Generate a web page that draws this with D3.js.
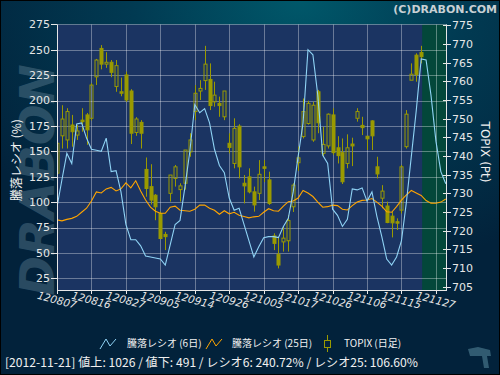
<!doctype html>
<html>
<head>
<meta charset="utf-8">
<script src="https://d3js.org/d3.v7.min.js"></script>
<style>
body { margin: 0; background: #02233c; }
svg { display: block; }
</style>
</head>
<body>
<svg width="500" height="375"></svg>
<script>
// tick labels on the date axis (every 7 trading days)
var tickLabels = ["120807","120816","120827","120905","120914","120926","121005","121017","121026","121106","121115","121127"];
var tickIndex = [0,7,14,21,28,35,42,49,56,63,70,77];
var leftTicks = [25,50,75,100,125,150,175,200,225,250,275];
var rightTicks = [705,710,715,720,725,730,735,740,745,750,755,760,765,770,775];

// 騰落レシオ (6日) / (25日), daily
var ratio6 = [95,122,148,138,177,178,163,152,151,150,163,130,131,110,78,63,63,57,47,46,
              45,44,38,58,78,82,115,150,196,188,192,178,152,136,129,104,92,94,78,62,
              46,56,65,66,66,65,76,84,110,145,178,250,245,205,146,138,93,87,76,83,
              113,112,114,101,110,86,66,44,38,46,62,100,145,190,241,240,205,160,130,118];
var ratio25 = [82.5,81.5,83,84,86,90,94,101,110,109,113,114.5,111,113,119,114,121,111,102,95,
               91,89,89,95,96,92,91.5,91,93,97,97,94,92,88,91.5,88.5,90,87,85.8,84.5,
               85.5,86,90,93.5,91.5,91,96,100.4,101,104,111.5,109,105.5,100,95,95.5,97,96.5,93,92.3,
               96.5,100,101.7,102,103.5,100,96,90.5,90,95.5,102,107,111.5,109,106.6,101.5,99,98.8,100,103];

// TOPIX daily candles
var opens  = [735.4,745.4,744.3,748.3,745.6,749.6,751,750.1,761.2,768.8,764.6,765.1,758.6,757.2,761.7,757.4,746.3,749,736.4,731.8,
              729.5,724.6,719,730,734,731,732.7,741.1,751.9,757.4,760.2,760.5,754.5,754.1,750.5,743.4,738,748,732.7,734.4,
              730.4,730,737.1,733.6,718.6,713.7,717,717.3,726.4,738.2,745.2,748.7,744.3,757.2,740.7,742.7,751,742.2,740.9,738,
              743.2,750.1,748.2,745.3,749.4,737.1,728.7,726.6,723.9,722.4,725.5,742.5,760.3,767,767.7];
var highs  = [744.3,753.6,752.8,751,748.3,752.8,751.5,759.5,766,769.7,767.8,765.7,765.7,761,762.6,757.9,750.4,749.6,739.6,737.8,
              729.8,725.1,719.7,734.9,737.6,732.7,741.6,746.1,759,760.3,769.5,764.8,759.9,755.9,757.4,746.1,750.1,748.5,734.9,736.7,
              731.8,738.9,738.9,735.8,719.3,718.4,721.2,724.2,732.7,742.5,755.4,754.8,754.5,757.7,747.8,751.4,752.8,745.3,744.7,745.8,
              744.9,752.8,750.5,745.3,749.6,739.8,732.2,727.8,725.1,723.3,737.6,752.3,764.8,767.5,769.5];
var lows   = [734,742,742,742.5,744.3,746.5,743,749.5,759,763.2,763.6,761.1,757.2,756,754.5,743.2,745.4,742,729.1,727,
              722.8,717.9,714.8,727.8,731.8,727.8,731,739.8,749.6,755,757.7,752.3,753.2,750.5,749.6,740.7,736.7,734,727.3,730,
              725.1,728.2,733,726.9,714.8,709.9,714.4,714.4,725,736,744.7,748.4,743.8,746.1,739.8,742,740.3,738,732.5,736.7,
              737.3,749.2,745.6,741.6,741.6,734,726,722,718.2,720.2,724.6,742,760.3,759.9,764.8];
var closes = [743.4,749.9,751.9,746.5,746.7,749.2,747,759,765.7,764.6,765.1,762.4,764.2,756.8,755,746.1,749.9,746.1,731.3,728.2,
              726.4,717.9,718.4,734.9,737.1,732,741.6,744.3,756.8,758.1,764.6,753.5,756.3,753.5,757.4,742.3,747.4,737.1,732,730.4,
              726.9,735.1,736.7,727.3,716.6,710.8,718,722.7,732.2,739.5,751.9,754.1,753.6,748.9,743.1,751.2,740.9,740.1,733.1,742.2,
              742.7,751.9,747.6,744.6,745.4,735.2,730.6,722.2,722.1,722,737.1,751.2,761.9,761.8,766.6];

var svg = d3.select("svg"),
    W = 500, H = 375,
    pl = 57, pr = 447, pt = 24.5, pb = 290;

var defs = svg.append("defs");
var bg = defs.append("radialGradient").attr("id", "bg")
    .attr("cx", "0.6").attr("cy", "0").attr("r", "0.75");
bg.append("stop").attr("offset", "0").attr("stop-color", "#00586a");
bg.append("stop").attr("offset", "0.45").attr("stop-color", "#013a52");
bg.append("stop").attr("offset", "1").attr("stop-color", "#02223b");

svg.append("rect").attr("width", W).attr("height", H).attr("fill", "url(#bg)");

// watermark
svg.append("text")
    .attr("transform", "translate(54,180) rotate(-90)")
    .attr("text-anchor", "middle")
    .style("font-family", "DejaVu Sans")
    .style("font-weight", "bold")
    .style("font-style", "italic")
    .style("font-size", "48px")
    .attr("fill", "#5a7c90").attr("opacity", 0.45)
    .text("DRABON");

var x = d3.scaleLinear().domain([0, 79.25]).range([pl, pr]);
var yL = d3.scaleLinear().domain([25, 275]).range([278.3, 24.3]);
var yR = d3.scaleLinear().domain([705, 775]).range([286.7, 25.3]);

// plot area
svg.append("rect").attr("x", pl).attr("y", pt).attr("width", pr - pl).attr("height", pb - pt)
    .attr("fill", "#1b3462");
var lastX = x(opens.length - 1) + 1;
svg.append("rect").attr("x", lastX).attr("y", pt).attr("width", pr - lastX).attr("height", pb - pt)
    .attr("fill", "#03473a");

var clip = defs.append("clipPath").attr("id", "clip");
clip.append("rect").attr("x", pl).attr("y", pt).attr("width", pr - pl).attr("height", pb - pt);

// grid
var grid = svg.append("g").attr("stroke", "#ffffff").attr("stroke-opacity", 0.35).attr("stroke-width", 1);
grid.selectAll(".gx").data(tickIndex).enter().append("line")
    .attr("x1", function(d) { return Math.round(x(d)) + 0.5; })
    .attr("x2", function(d) { return Math.round(x(d)) + 0.5; })
    .attr("y1", pt).attr("y2", pb);
grid.selectAll(".gy").data(leftTicks).enter().append("line")
    .attr("y1", function(d) { return Math.round(yL(d)) + 0.5; })
    .attr("y2", function(d) { return Math.round(yL(d)) + 0.5; })
    .attr("x1", pl).attr("x2", pr);

var plot = svg.append("g").attr("clip-path", "url(#clip)");

// candles
var olive = "#9a9a00";
var candles = plot.selectAll(".c").data(opens).enter().append("g");
candles.each(function(o, i) {
    var g = d3.select(this), cx = Math.round(x(i)) + 0.5;
    var c = closes[i], up = c >= o;
    var bt = yR(Math.max(o, c)), bb = yR(Math.min(o, c));
    g.append("line").attr("x1", cx).attr("x2", cx).attr("y1", yR(highs[i])).attr("y2", bt)
        .attr("stroke", olive);
    g.append("line").attr("x1", cx).attr("x2", cx).attr("y1", bb).attr("y2", yR(lows[i]))
        .attr("stroke", olive);
    g.append("rect").attr("x", cx - 1.5).attr("width", 3)
        .attr("y", bt).attr("height", Math.max(bb - bt, 1))
        .attr("fill", up ? "none" : olive)
        .attr("stroke", olive).attr("stroke-width", 1);
});

var line = d3.line().x(function(d, i) { return x(i); }).y(function(d) { return yL(d); });
plot.append("path").datum(ratio25).attr("d", line)
    .attr("fill", "none").attr("stroke", "#ffa500").attr("stroke-width", 1.1);
plot.append("path").datum(ratio6).attr("d", line)
    .attr("fill", "none").attr("stroke", "#8fd3f5").attr("stroke-width", 1.1);

// axes
var axisColor = "#e6e6e6";
var axes = svg.append("g").attr("stroke", axisColor).attr("stroke-width", 1);
axes.append("line").attr("x1", pl + 0.5).attr("x2", pl + 0.5).attr("y1", pt).attr("y2", pb);
axes.append("line").attr("x1", pl).attr("x2", pr).attr("y1", pb + 0.5).attr("y2", pb + 0.5);
axes.append("line").attr("x1", pr - 0.5).attr("x2", pr - 0.5).attr("y1", pt).attr("y2", pb);

axes.selectAll(".tl").data(leftTicks).enter().append("line")
    .attr("x1", pl - 6).attr("x2", pl)
    .attr("y1", function(d) { return Math.round(yL(d)) + 0.5; })
    .attr("y2", function(d) { return Math.round(yL(d)) + 0.5; });
axes.selectAll(".tr").data(rightTicks).enter().append("line")
    .attr("x1", pr - 4).attr("x2", pr + 4)
    .attr("y1", function(d) { return Math.round(yR(d)) + 0.5; })
    .attr("y2", function(d) { return Math.round(yR(d)) + 0.5; });
axes.selectAll(".tb").data(tickIndex).enter().append("line")
    .attr("x1", function(d) { return Math.round(x(d)) + 0.5; })
    .attr("x2", function(d) { return Math.round(x(d)) + 0.5; })
    .attr("y1", pb).attr("y2", pb + 4);

var lab = svg.append("g").attr("fill", axisColor)
    .style("font-family", "DejaVu Sans").style("font-size", "11px");
lab.selectAll(".ll").data(leftTicks).enter().append("text")
    .attr("x", pl - 7).attr("y", function(d) { return yL(d); })
    .attr("dy", "0.36em").attr("text-anchor", "end").text(function(d) { return d; });
lab.selectAll(".rl").data(rightTicks).enter().append("text")
    .attr("x", pr + 5).attr("y", function(d) { return yR(d); })
    .attr("dy", "0.36em").text(function(d) { return d; });
lab.selectAll(".bl").data(tickIndex).enter().append("text")
    .attr("transform", function(d) { return "translate(" + x(d) + "," + 300 + ") rotate(15)"; })
    .attr("text-anchor", "middle").attr("dy", "0.36em")
    .style("font-style", "italic").style("font-size", "10.5px")
    .text(function(d, i) { return tickLabels[i]; });

// axis titles
svg.append("text")
    .attr("transform", "translate(17,160) rotate(-90)")
    .attr("text-anchor", "middle").attr("dy", "0.36em")
    .attr("fill", "#f0f0f0")
    .style("font-family", "Noto Sans CJK JP").style("font-size", "12px")
    .text("騰落レシオ (%)");
svg.append("text")
    .attr("transform", "translate(485,152) rotate(90)")
    .attr("text-anchor", "middle").attr("dy", "0.36em")
    .attr("fill", "#f0f0f0")
    .style("font-family", "DejaVu Sans").style("font-size", "12px")
    .text("TOPIX (Pt)");

// copyright
svg.append("text").attr("x", 497).attr("y", 13).attr("text-anchor", "end")
    .attr("fill", "#c8d0d4")
    .style("font-family", "DejaVu Sans").style("font-weight", "bold").style("font-size", "11px")
    .text("(C)DRABON.COM");

// legend
var leg = svg.append("g").style("font-family", "Noto Sans CJK JP").style("font-size", "10px").attr("fill", "#f0f0f0");
leg.append("path").attr("d", "M100,349 L106,339 L110,346 L116,339").attr("fill", "none").attr("stroke", "#8fd3f5");
leg.append("text").attr("x", 127).attr("y", 347).text("騰落レシオ (6日)");
leg.append("path").attr("d", "M206,349 L212,339 L216,346 L222,339").attr("fill", "none").attr("stroke", "#ffa500");
leg.append("text").attr("x", 232).attr("y", 347).text("騰落レシオ (25日)");
leg.append("line").attr("x1", 327.5).attr("x2", 327.5).attr("y1", 335).attr("y2", 352).attr("stroke", olive);
leg.append("rect").attr("x", 324.5).attr("y", 340.5).attr("width", 6).attr("height", 7).attr("fill", "#02233c").attr("stroke", olive);
leg.append("text").attr("x", 344).attr("y", 347).text("TOPIX (日足)");

// status line
svg.append("text").attr("x", 5).attr("y", 367)
    .attr("fill", "#f0f0f0")
    .attr("textLength", 413).attr("lengthAdjust", "spacingAndGlyphs")
    .style("font-family", "Noto Sans CJK JP").style("font-size", "12px")
    .text("[2012-11-21]  値上: 1026 / 値下: 491 / レシオ6: 240.72% / レシオ25: 106.60%");

// small logo mark
svg.append("path").attr("d", "M468,349 L478,347 L490,350 L491,356 L487,356 L489,368 L484,368 L482,356 L470,356 Z")
    .attr("fill", "#3d6a80").attr("opacity", 0.8);

svg.append("rect").attr("x", 0.5).attr("y", 0.5).attr("width", W - 1).attr("height", H - 1)
    .attr("fill", "none").attr("stroke", "#000");
</script>
</body>
</html>
